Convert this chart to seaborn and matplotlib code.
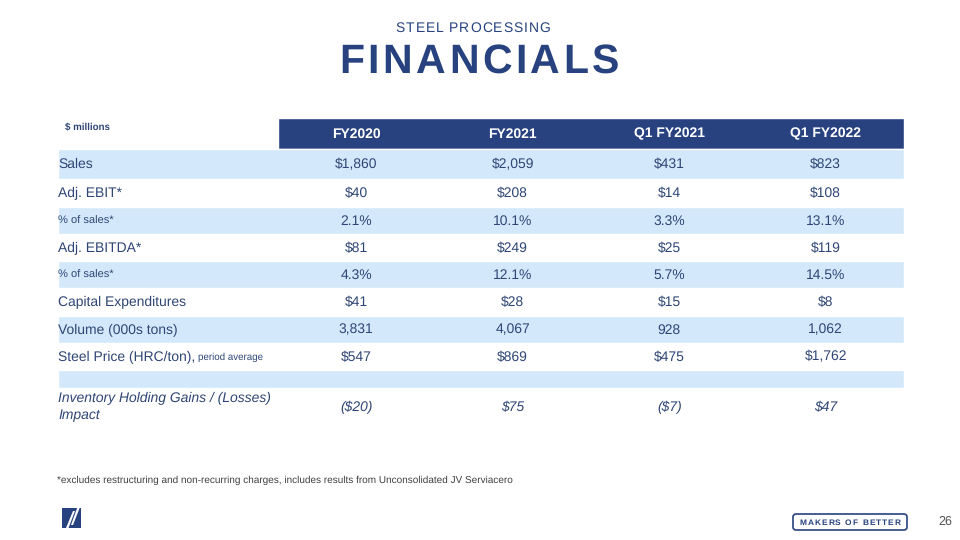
import matplotlib
matplotlib.use("Agg")
import matplotlib.pyplot as plt
import seaborn as sns
from matplotlib.patches import FancyBboxPatch, Polygon

sns.set_theme(style="white")
plt.rcParams['font.family'] = ['Liberation Sans', 'DejaVu Sans']
plt.rcParams['text.hinting'] = 'no_hinting'

# ---- data ----
columns = ["FY2020", "FY2021", "Q1 FY2021", "Q1 FY2022"]
row_labels = ["Sales", "Adj. EBIT*", "% of sales*", "Adj. EBITDA*", "% of sales*",
              "Capital Expenditures", "Volume (000s tons)", "Steel Price (HRC/ton),", "",
              "Inventory Holding Gains / (Losses)\nImpact"]
sales = ["$1,860", "$2,059", "$431", "$823"]
adj_ebit = ["$40", "$208", "$14", "$108"]
ebit_pct = ["2.1%", "10.1%", "3.3%", "13.1%"]
adj_ebitda = ["$81", "$249", "$25", "$119"]
ebitda_pct = ["4.3%", "12.1%", "5.7%", "14.5%"]
capex = ["$41", "$28", "$15", "$8"]
volume = ["3,831", "4,067", "928", "1,062"]
steel_price = ["$547", "$869", "$475", "$1,762"]
blank = ["", "", "", ""]
inventory = ["($20)", "$75", "($7)", "$47"]
table_values = [sales, adj_ebit, ebit_pct, adj_ebitda, ebitda_pct, capex, volume,
                steel_price, blank, inventory]

# ---- layout ----
DARK = "#27427F"
LIGHT = "#D3E9FB"
TXT = "#2E4575"
row_edges = [149, 179, 207, 234, 261, 288, 316, 343, 370, 388, 425]
col_left, col_right = 278, 904
tab_left = 58
ncol = len(columns)
col_w = (col_right - col_left) / ncol
col_centers = [col_left + col_w * (i + 0.5) for i in range(ncol)]

fig = plt.figure(figsize=(9.6, 5.4), dpi=100)
ax = fig.add_axes([0, 0, 1, 1])
ax.set_xlim(0, 960)
ax.set_ylim(540, 0)
ax.axis("off")

# header bar
ax.barh([133.5], [col_right - col_left], left=col_left, height=31, color=DARK, zorder=1)
for c, name in zip(col_centers, columns):
    ax.text(c, 134, name, ha="center", va="center", color="white",
            fontsize=10, fontweight="bold", zorder=3)
ax.text(65, 128, "$ millions", ha="left", va="center", color=TXT, fontsize=7,
        fontweight="bold")

# row backgrounds
for i in range(len(row_labels)):
    top, bot = row_edges[i], row_edges[i + 1]
    if i % 2 == 0:
        ax.barh([(top + bot) / 2], [col_right - tab_left], left=tab_left,
                height=bot - top, color=LIGHT, zorder=1)

# labels & values
for i, (lab, vals) in enumerate(zip(row_labels, table_values)):
    top, bot = row_edges[i], row_edges[i + 1]
    yc = (top + bot) / 2
    italic = i == len(row_labels) - 1
    small = lab.startswith("%")
    fs = 8 if small else 10
    style = "italic" if italic else "normal"
    if lab:
        t = ax.text(58, yc + 0.5, lab, ha="left", va="center", color=TXT,
                    fontsize=fs, fontstyle=style, zorder=3, linespacing=1.3)
        if lab.startswith("Steel Price"):
            fig.canvas.draw()
            bb = t.get_window_extent()
            x1 = ax.transData.inverted().transform((bb.x1, bb.y0))[0]
            ax.text(x1 + 3, yc + 0.5, "period average", ha="left", va="center",
                    color=TXT, fontsize=7, zorder=3)
    for c, v in zip(col_centers, vals):
        ax.text(c, yc + 0.5, v, ha="center", va="center", color=TXT,
                fontsize=10, fontstyle=style, zorder=3)

# titles with letter spacing
def spaced(x_center, y, s, spacing, **kw):
    fig.canvas.draw()
    r = fig.canvas.get_renderer()
    inv = ax.transData.inverted()
    widths = []
    for ch in s:
        tt = ax.text(0, 0, ch if ch != " " else "i", **kw)
        bb = tt.get_window_extent(renderer=r)
        w = inv.transform((bb.x1, 0))[0] - inv.transform((bb.x0, 0))[0]
        widths.append(w)
        tt.remove()
    total = sum(widths) + spacing * (len(s) - 1)
    x = x_center - total / 2
    for ch, w in zip(s, widths):
        if ch != " ":
            ax.text(x, y, ch, ha="left", va="center", **kw)
        x += w + spacing
    return x

spaced(473, 28, "STEEL PROCESSING", 1.0, fontsize=10, color=DARK)
spaced(479, 62.5, "FINANCIALS", 3.5, fontsize=29.5, fontweight="bold", color=DARK)

# footnote
ax.text(57, 480, "*excludes restructuring and non-recurring charges, includes results "
        "from Unconsolidated JV Serviacero", ha="left", va="center", fontsize=7.2,
        color="#404040")

# left logo
ax.add_patch(Polygon([(62, 508), (81, 508), (81, 528), (62, 528)], closed=True,
                     facecolor=DARK, edgecolor="none"))
ax.add_patch(Polygon([(66, 528), (73, 511), (75, 511), (68.5, 528)], closed=True,
                     facecolor="white", edgecolor="none"))
ax.add_patch(Polygon([(71, 525), (77.5, 507), (80, 507), (73, 525)], closed=True,
                     facecolor="white", edgecolor="none"))

# right badge
ax.add_patch(FancyBboxPatch((793, 514), 114, 16, boxstyle="round,pad=0,rounding_size=3",
                            facecolor="white", edgecolor=DARK, linewidth=1.2))
spaced(850, 522.5, "MAKERS OF BETTER", 1.0, fontsize=6, fontweight="bold", color=DARK)
ax.text(945, 522, "26", ha="center", va="center", fontsize=9, color="#555555")

fig.savefig("out.png", dpi=100)
